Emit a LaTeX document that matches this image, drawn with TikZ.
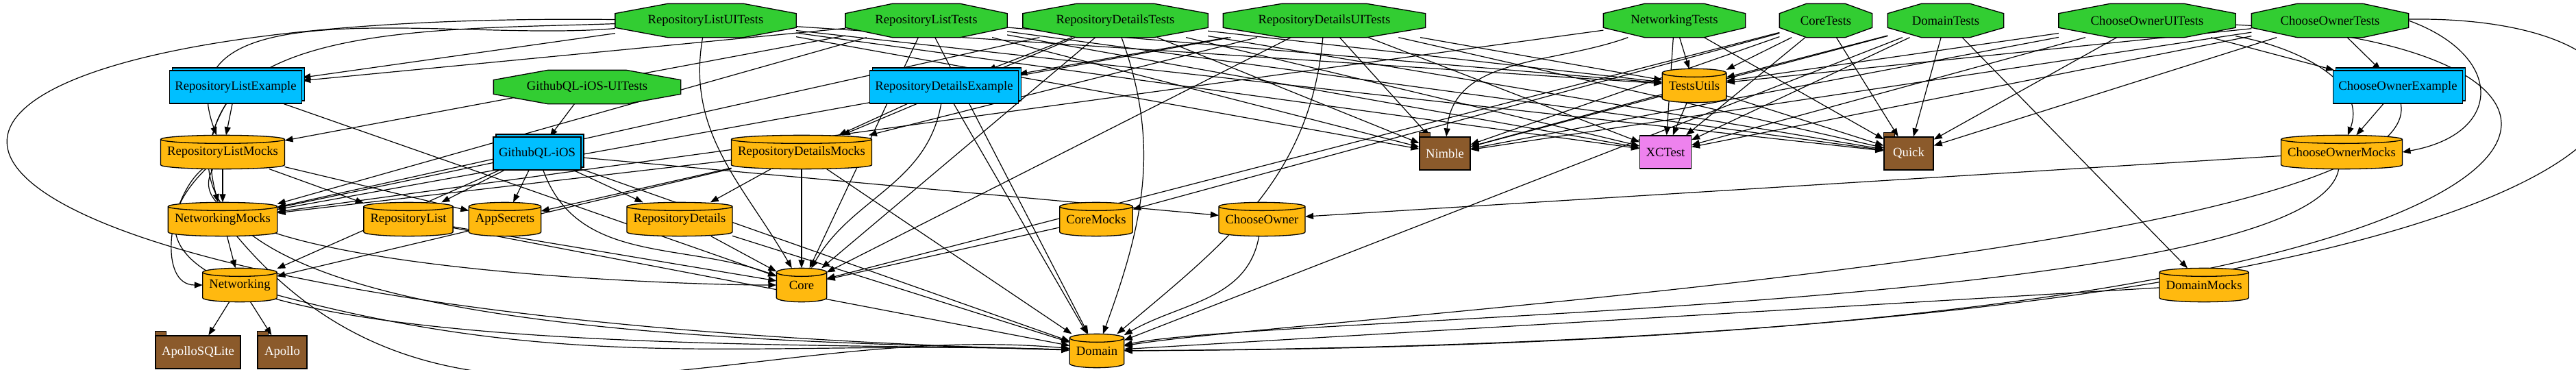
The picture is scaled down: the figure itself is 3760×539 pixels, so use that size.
\documentclass[tikz,border=0pt]{standalone}
\usepackage{fontspec}
\setmainfont{Liberation Serif}
\usepackage{tikz}
\usetikzlibrary{positioning, arrows.meta, calc, shadows}
\usepackage{xcolor}
\definecolor{testgreen}{HTML}{32CD32}
\definecolor{appblue}{HTML}{00BFFF}
\definecolor{libgold}{HTML}{FFB90F}
\definecolor{pkgbrown}{HTML}{8B5A2B}
\definecolor{sdkviolet}{HTML}{EE82EE}
\pgfdeclarelayer{edgelayer}
\pgfdeclarelayer{shapelayer}
\pgfsetlayers{edgelayer,shapelayer,main}
% one unit is a quarter point
\tikzset{
  box/.style={minimum height=12pt, minimum width=18pt, inner xsep=2.25pt, inner ysep=0pt, line width=0.325pt},
  test/.style={box, minimum width=#1},
  lib/.style={box},
  app/.style={box, inner xsep=2pt, draw, fill=appblue,
    copy shadow={shadow xshift=1pt, shadow yshift=1pt, draw=black, fill=appblue, line width=0.325pt}},
  pkg/.style={box, draw, fill=pkgbrown, text=white},
  sdk/.style={box, draw, fill=sdkviolet},
  testbody/.style={draw, line width=0.325pt, fill=testgreen},
  libbody/.style={draw, line width=0.325pt, fill=libgold},
  dep/.style={line width=0.3pt, -{Triangle[length=3pt, width=2.25pt]}},
}

\begin{document}
\begin{tikzpicture}[x=0.25pt, y=0.25pt, every node/.style={font=\fontsize{4.667}{5}\selectfont}]
  \useasboundingbox (0,0) rectangle (3760,539);

  % test targets
  \node[test=65.75pt] (rlUITests) at (1030,509) {RepositoryListUITests};
  \node[test=58.75pt] (rlTests) at (1352,509) {RepositoryListTests};
  \node[test=67.25pt] (rdTests) at (1628,509) {RepositoryDetailsTests};
  \node[test=73.5pt] (rdUITests) at (1933,509) {RepositoryDetailsUITests};
  \node[test=51.5pt] (netTests) at (2444,509) {NetworkingTests};
  \node[test=33.5pt] (coreTests) at (2665,509) {CoreTests};
  \node[test=42pt] (domTests) at (2840,509) {DomainTests};
  \node[test=64.25pt] (coUITests) at (3134,509) {ChooseOwnerUITests};
  \node[test=57pt] (coTests) at (3401,509) {ChooseOwnerTests};
  \node[test=68pt] (appUITests) at (857,412) {GithubQL-iOS-UITests};

  % apps
  \node[app] (rlExample) at (344,412) {RepositoryListExample};
  \node[app] (rdExample) at (1378,412) {RepositoryDetailsExample};
  \node[app] (coExample) at (3500,412) {ChooseOwnerExample};
  \node[app] (app) at (784,315) {GithubQL-iOS};

  % frameworks
  \node[lib] (testsUtils) at (2473,414) {TestsUtils};
  \node[lib] (rlMocks) at (325,317) {RepositoryListMocks};
  \node[lib] (rdMocks) at (1170,317) {RepositoryDetailsMocks};
  \node[lib] (coMocks) at (3418,317) {ChooseOwnerMocks};
  \node[lib] (netMocks) at (325,219) {NetworkingMocks};
  \node[lib] (repoList) at (596,219) {RepositoryList};
  \node[lib] (appSecrets) at (737,219) {AppSecrets};
  \node[lib] (repoDetails) at (992,219) {RepositoryDetails};
  \node[lib] (coreMocks) at (1600,219) {CoreMocks};
  \node[lib] (chooseOwner) at (1842,219) {ChooseOwner};
  \node[lib] (net) at (350,123) {Networking};
  \node[lib] (core) at (1170,123) {Core};
  \node[lib] (domMocks) at (3217,123) {DomainMocks};
  \node[lib] (domain) at (1601,27) {Domain};

  % packages and sdk
  \node[pkg] (nimble) at (2109,315) {Nimble};
  \node[pkg] (quick) at (2786,315) {Quick};
  \node[pkg] (apolloSQLite) at (289,25) {ApolloSQLite};
  \node[pkg] (apollo) at (412,25) {Apollo};
  \node[sdk] (xctest) at (2431,317) {XCTest};

  \begin{pgfonlayer}{shapelayer}
    % octagons
    \foreach \nm in {rlUITests,rlTests,rdTests,rdUITests,netTests,coreTests,domTests,coUITests,coTests,appUITests}
      \path[testbody] ($(\nm.north west)!.29!(\nm.north east)$) -- ($(\nm.north west)!.71!(\nm.north east)$)
        -- ($(\nm.north east)!.29!(\nm.south east)$) -- ($(\nm.north east)!.71!(\nm.south east)$)
        -- ($(\nm.south west)!.71!(\nm.south east)$) -- ($(\nm.south west)!.29!(\nm.south east)$)
        -- ($(\nm.north west)!.71!(\nm.south west)$) -- ($(\nm.north west)!.29!(\nm.south west)$) -- cycle;
    % cylinders
    \foreach \nm in {testsUtils,rlMocks,rdMocks,coMocks,netMocks,repoList,appSecrets,repoDetails,coreMocks,chooseOwner,net,core,domMocks,domain}
      \path[libbody] let \p1=(\nm.north west), \p2=(\nm.south east), \n1={(\x2-\x1)/2} in
        (\x1,\y1-1.5pt) -- (\x1,\y2+1.5pt) arc[start angle=180, end angle=360, x radius=\n1, y radius=1.5pt]
        -- (\x2,\y1-1.5pt) arc[start angle=0, end angle=180, x radius=\n1, y radius=1.5pt] -- cycle
        (\x1,\y1-1.5pt) arc[start angle=180, end angle=360, x radius=\n1, y radius=1.5pt];
    % folder tabs
    \foreach \nm in {nimble,quick,apolloSQLite,apollo}
      \filldraw[fill=pkgbrown, line width=0.325pt] (\nm.north west) rectangle ++(16,6);
  \end{pgfonlayer}

  \begin{pgfonlayer}{edgelayer}
    % test helpers
    \foreach \src in {rlUITests,rlTests,rdTests,rdUITests,coreTests,domTests,coUITests,coTests}
      \foreach \dst in {testsUtils,nimble,xctest,quick}
        \draw[dep] (\src) -- (\dst);
    \draw[dep] (netTests) -- (testsUtils);
    \draw[dep] (netTests) -- (xctest);
    \draw[dep] (netTests) to[out=200, in=85] (nimble);
    \draw[dep] (netTests) -- (quick);
    \foreach \dst in {nimble,xctest,quick}
      \draw[dep] (testsUtils) -- (\dst);

    % repository list
    \draw[dep] (rlUITests) -- (rlExample);
    \draw[dep] (rlUITests) to[out=185, in=110] (rlMocks);
    \draw[dep] (rlUITests) to[out=182, in=105, looseness=1.1] (netMocks);
    \draw[dep] (rlUITests) to[out=-100, in=120] (core);
    \draw[dep] (rlUITests) .. controls (-400,525) and (-350,80) .. (domain);
    \foreach \dst in {rlExample,rlMocks,netMocks,core,domain}
      \draw[dep] (rlTests) -- (\dst);
    \draw[dep] (rlExample) -- (rlMocks);
    \draw[dep] (rlExample) -- (core);
    \draw[dep] (rlExample) to[out=-120, in=178, looseness=0.8] (domain);
    \foreach \dst in {repoList,netMocks,appSecrets}
      \draw[dep] (rlMocks) -- (\dst);
    \draw[dep] (rlMocks) to[out=-140, in=180] (net);
    \draw[dep] (rlMocks) to[out=-120, in=180, looseness=0.5] (core);
    \draw[dep] (rlMocks) to[out=-135, in=178, looseness=0.8] (domain);
    \draw[dep] (repoList) -- (core);
    \draw[dep] (repoList) -- (domain);

    % networking
    \draw[dep] (netTests) -- (netMocks);
    \draw[dep] (netMocks) -- (net);
    \draw[dep] (netMocks) to[out=-50, in=175] (domain);
    \draw[dep] (net) -- (apolloSQLite);
    \draw[dep] (net) -- (apollo);
    \draw[dep] (net) to[out=-15, in=178] (domain);

    % app
    \draw[dep] (appUITests) -- (app);
    \foreach \dst in {repoList,appSecrets,repoDetails,chooseOwner,net,netMocks,domain}
      \draw[dep] (app) -- (\dst);
    \draw[dep] (app) to[out=-70, in=160] (core);

    % repository details
    \foreach \src in {rdTests,rdUITests} {
      \foreach \dst in {rdExample,rdMocks,netMocks,core}
        \draw[dep] (\src) -- (\dst);
    }
    \draw[dep] (rdTests) to[out=-70, in=70] (domain);
    \draw[dep] (rdUITests) to[out=-95, in=40] (domain);
    \draw[dep] (rdExample) -- (rdMocks);
    \draw[dep] (rdExample) to[out=-100, in=60] (core);
    \draw[dep] (rdExample) -- (domain);
    \foreach \dst in {repoDetails,appSecrets,netMocks,net,core,domain}
      \draw[dep] (rdMocks) -- (\dst);
    \draw[dep] (repoDetails) -- (core);
    \draw[dep] (repoDetails) -- (domain);

    % core and domain
    \draw[dep] (coreTests) -- (core);
    \draw[dep] (coreTests) -- (coreMocks);
    \draw[dep] (coreMocks) -- (core);
    \draw[dep] (domTests) -- (domMocks);
    \draw[dep] (domTests) -- (domain);
    \draw[dep] (domMocks) -- (domain);

    % choose owner
    \draw[dep] (coUITests) -- (coExample);
    \draw[dep] (coUITests) to[out=-10, in=70] (coMocks);
    \draw[dep] (coUITests) .. controls (3950,470) and (3900,35) .. (domain);
    \draw[dep] (coTests) -- (coExample);
    \draw[dep] (coTests.east) to[out=-20, in=10, looseness=2] (coMocks.east);
    \draw[dep] (coTests) .. controls (4060,520) and (4060,40) .. (domain);
    \draw[dep] (coExample) -- (coMocks);
    \draw[dep] (coExample) to[out=-80, in=10, looseness=0.3] (domain);
    \draw[dep] (coMocks) -- (chooseOwner);
    \draw[dep] (coMocks) to[out=-100, in=12, looseness=0.3] (domain);
    \draw[dep] (chooseOwner) to[out=-100, in=30] (domain);
  \end{pgfonlayer}
\end{tikzpicture}
\end{document}
